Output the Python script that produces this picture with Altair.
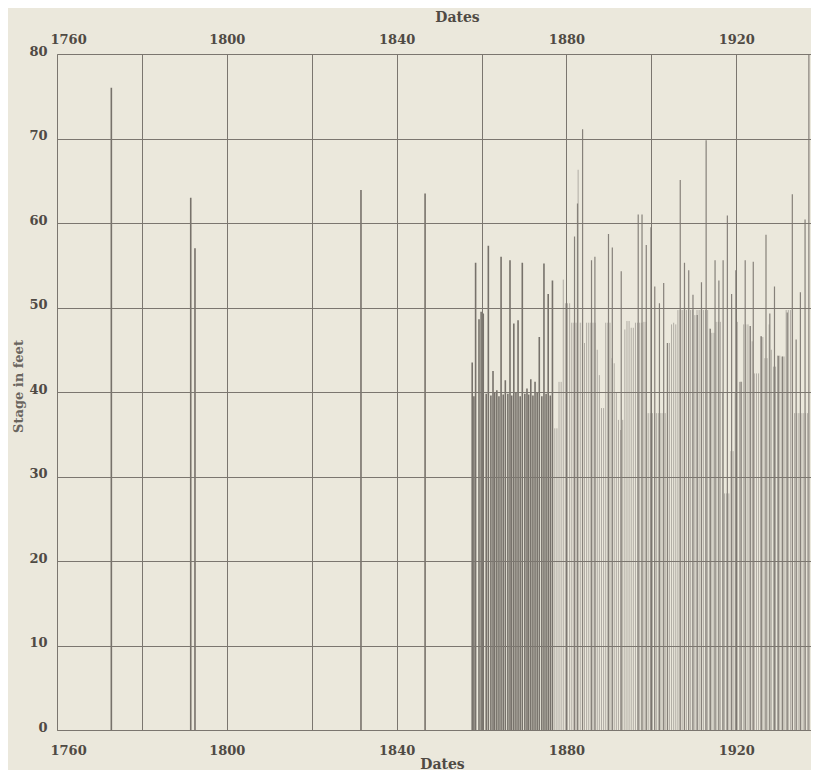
import altair as alt
import pandas as pd

# ---- data ----
early_years = [1772.8, 1791.5, 1792.5, 1831.6, 1846.7]
early_vals = [76.0, 63.0, 57.0, 63.9, 63.5]

mid_years = [1857.8, 1858.6, 1859.4, 1859.9, 1860.4, 1861.6, 1862.7, 1863.6, 1864.6,
             1865.6, 1866.7, 1867.6, 1868.6, 1869.6, 1870.7, 1871.6, 1872.6, 1873.6,
             1874.7, 1875.7, 1876.7]
mid_vals = [43.5, 55.3, 48.6, 49.5, 49.3, 57.3, 42.5, 40.2, 56.0,
            41.4, 55.6, 48.1, 48.5, 55.3, 40.4, 41.5, 41.2, 46.5,
            55.2, 51.6, 53.2]

second_years = [1858.2, 1861.1, 1862.2, 1863.1, 1864.1, 1865.1, 1866.2, 1867.1, 1868.1,
                1869.1, 1870.2, 1871.1, 1872.1, 1873.1, 1874.2, 1875.2, 1876.2]
second_vals = [39.5, 39.8, 39.6, 39.9, 39.5, 39.7, 39.8, 39.6, 39.9,
               39.5, 39.8, 39.7, 39.6, 39.9, 39.5, 39.8, 39.6]

light_vals = [
    35.7, 35.7, 41.2, 41.2, 53.3, 50.5, 50.5, 50.5, 48.2, 48.2,   # 1877-1881
    48.2, 66.3, 48.2, 48.2, 45.8, 48.2, 48.2, 48.2, 48.2, 48.2,   # 1882-1886
    45.0, 42.0, 38.1, 38.1, 48.2, 48.2, 48.2, 44.0, 43.4, 40.0,   # 1887-1891
    36.7, 35.5, 36.7, 47.4, 48.4, 48.4, 47.6, 47.6, 48.2, 48.2,   # 1892-1896
    48.2, 48.2, 48.3, 48.3, 37.5, 37.5, 37.5, 37.5, 37.5, 37.5,   # 1897-1901
    37.5, 37.5, 37.5, 45.8, 45.8, 48.0, 48.2, 48.0, 49.7, 49.7,   # 1902-1906
    49.7, 49.7, 49.7, 49.7, 49.7, 49.7, 49.1, 49.7, 49.7, 49.7,   # 1907-1911
    49.7, 49.7, 49.7, 47.5, 47.0, 47.0, 48.3, 48.3, 48.3, 40.0,   # 1912-1916
    28.0, 28.0, 28.0, 33.0, 33.0, 40.0, 48.3, 41.2, 41.2, 48.0,   # 1917-1921
    48.0, 48.0, 47.8, 46.0, 42.2, 42.2, 42.2, 46.6, 46.5, 44.0,   # 1922-1926
    44.0, 48.0, 45.0, 43.0, 43.0, 44.3, 44.3, 44.2, 44.2, 49.7,   # 1927-1931
    49.7, 49.7, 49.7, 37.5, 37.5, 37.5, 37.5, 37.5, 37.5, 37.5,   # 1932-1936
]
light_years = [y + off for y in range(1877, 1937) for off in (0.25, 0.75)]

late_years = [1881.9, 1882.6, 1883.8, 1885.9, 1886.7, 1889.9, 1890.8, 1892.9, 1896.9,
              1897.8, 1898.8, 1899.9, 1900.8, 1901.9, 1902.9, 1903.8, 1906.8, 1907.8,
              1908.8, 1909.8, 1910.8, 1911.8, 1912.9, 1913.9, 1915.0, 1915.9, 1916.9,
              1917.9, 1918.9, 1919.9, 1921.1, 1922.1, 1923.3, 1924.0, 1925.9, 1927.0,
              1927.9, 1929.0, 1929.9, 1930.9, 1932.0, 1933.2, 1934.1, 1935.1, 1936.2,
              1937.1]
late_vals = [58.4, 62.3, 71.1, 55.6, 56.0, 58.7, 57.1, 54.3, 61.0,
             61.0, 57.4, 59.5, 52.5, 50.5, 52.9, 45.8, 65.1, 55.3,
             54.4, 51.5, 49.1, 53.0, 69.8, 47.5, 55.6, 53.2, 55.6,
             60.9, 51.6, 54.4, 41.2, 55.6, 47.8, 55.4, 46.6, 58.6,
             49.3, 52.5, 44.3, 44.2, 49.4, 63.4, 46.2, 51.8, 60.4,
             80.0]

x_ticks = [1760, 1780, 1800, 1820, 1840, 1860, 1880, 1900, 1920]
y_ticks = [0, 10, 20, 30, 40, 50, 60, 70, 80]

BG = "#ebe8dc"
INK = "#4f4a44"
GRID = "#7b766f"
DARK = "#77726b"
LATE = "#86817a"
LIGHT = "#b0aca4"
FONT = "DejaVu Serif"

light_df = pd.DataFrame({"year": light_years, "stage": light_vals})
dark_df = pd.DataFrame({
    "year": early_years + mid_years + second_years,
    "stage": early_vals + mid_vals + second_vals,
})
late_df = pd.DataFrame({"year": late_years, "stage": late_vals})

xscale = alt.Scale(domain=[1760, 1937.6], nice=False, zero=False)
yscale = alt.Scale(domain=[0, 80], nice=False)

label_expr = "datum.value % 40 == 0 ? datum.label : ''"

x_bottom = alt.X(
    "year:Q", scale=xscale,
    axis=alt.Axis(orient="bottom", values=x_ticks, format="d", labelExpr=label_expr,
                  grid=True, gridColor=GRID, gridWidth=1, gridOpacity=1,
                  ticks=False, domain=True, domainColor=GRID,
                  labelPadding=14, labelFont=FONT, labelFontSize=13, labelFontWeight="bold",
                  labelColor=INK, labelFlush=True, labelFlushOffset=7,
                  title="Dates", titleFont=FONT, titleFontSize=14, titleFontWeight="bold",
                  titleColor=INK, titleX=385, titleY=34, titleBaseline="middle",
                  zindex=1),
)
x_top = alt.X(
    "year:Q", scale=xscale,
    axis=alt.Axis(orient="top", values=x_ticks, format="d", labelExpr=label_expr,
                  grid=False, ticks=False, domain=False,
                  labelPadding=8, labelFont=FONT, labelFontSize=13, labelFontWeight="bold",
                  labelColor=INK, labelFlush=True, labelFlushOffset=7,
                  title="Dates", titleFont=FONT, titleFontSize=14, titleFontWeight="bold",
                  titleColor=INK, titleX=400, titleY=-37, titleBaseline="middle",
                  zindex=1),
)
y_axis = alt.Y(
    "stage:Q", scale=yscale,
    axis=alt.Axis(values=y_ticks, grid=True, gridColor=GRID, gridWidth=1, gridOpacity=1,
                  ticks=False, domain=True, domainColor=GRID,
                  labelPadding=10, labelFont=FONT, labelFontSize=13, labelFontWeight="bold",
                  labelColor=INK, labelOffset=-3,
                  title="Stage in feet", titleFont=FONT, titleFontSize=13,
                  titleFontWeight="bold", titleColor="#6a655f", titleAngle=-90,
                  titleX=-39, titleY=332, titleAlign="center", titleBaseline="middle",
                  zindex=1),
)

light = alt.Chart(light_df).mark_rule(color=LIGHT, strokeWidth=1.0).encode(
    x=x_bottom, y=y_axis, y2=alt.datum(0)
)
dark = alt.Chart(dark_df).mark_rule(color=DARK, strokeWidth=1.6).encode(
    x=x_top, y=alt.Y("stage:Q", scale=yscale), y2=alt.datum(0)
)
late = alt.Chart(late_df).mark_rule(color=LATE, strokeWidth=1.2).encode(
    x=alt.X("year:Q", scale=xscale, axis=None),
    y=alt.Y("stage:Q", scale=yscale), y2=alt.datum(0)
)

chart = alt.layer(light, dark, late).resolve_axis(x="independent").properties(
    width=754, height=676,
    background=BG,
    padding={"left": 49, "top": 46, "right": 0, "bottom": 40},
    autosize=alt.AutoSizeParams(type="none"),
).configure_view(stroke=None, fill=BG)

chart.save("out.html", embed_options={"renderer": "svg", "actions": False})
